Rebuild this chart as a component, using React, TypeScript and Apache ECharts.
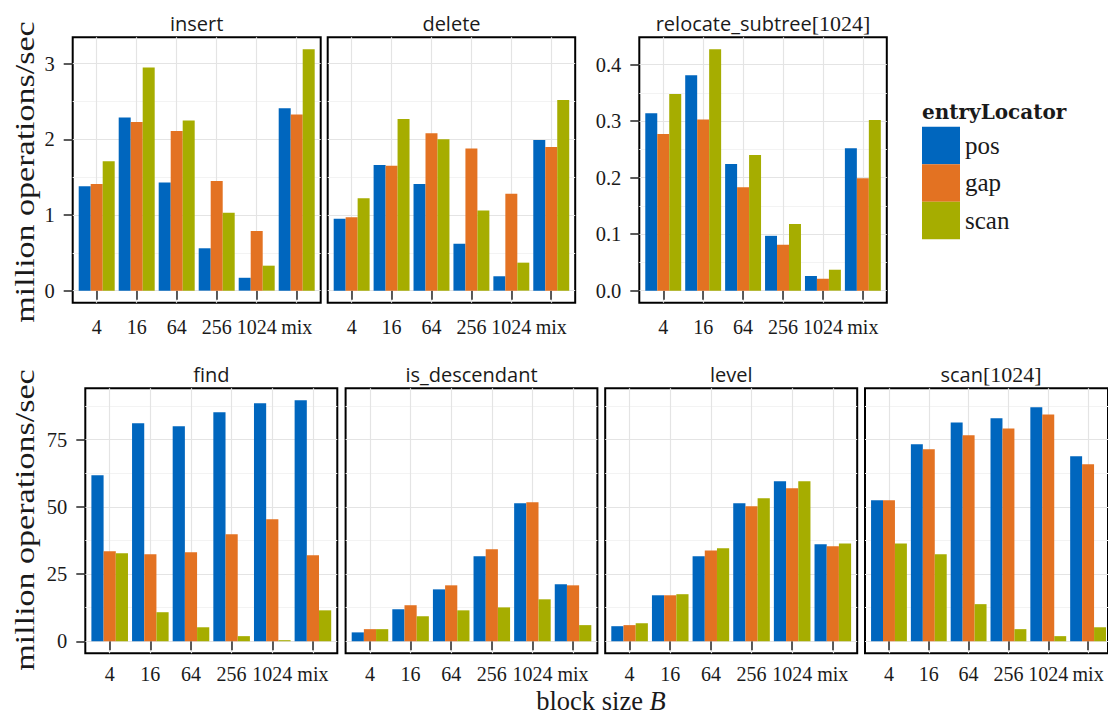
import React, { useEffect, useRef } from 'react';
import * as echarts from 'echarts';

// ---------- data ----------
const categories = ['4', '16', '64', '256', '1024', 'mix'];
const methods = ['pos', 'gap', 'scan'];

const insertPos = [1.38, 2.29, 1.43, 0.56, 0.17, 2.41];
const insertGap = [1.41, 2.23, 2.11, 1.45, 0.79, 2.33];
const insertScan = [1.71, 2.95, 2.25, 1.03, 0.33, 3.19];

const deletePos = [0.95, 1.66, 1.41, 0.62, 0.19, 1.99];
const deleteGap = [0.97, 1.65, 2.08, 1.88, 1.28, 1.9];
const deleteScan = [1.22, 2.27, 2.0, 1.06, 0.37, 2.52];

const relocatePos = [0.314, 0.381, 0.224, 0.097, 0.026, 0.252];
const relocateGap = [0.277, 0.303, 0.183, 0.081, 0.021, 0.199];
const relocateScan = [0.348, 0.427, 0.24, 0.118, 0.037, 0.302];

const findPos = [61.7, 81.1, 80.0, 85.2, 88.5, 89.6];
const findGap = [33.5, 32.4, 33.1, 39.8, 45.4, 32.0];
const findScan = [32.7, 10.8, 5.2, 1.9, 0.4, 11.5];

const isDescPos = [3.3, 11.9, 19.3, 31.6, 51.3, 21.2];
const isDescGap = [4.5, 13.4, 20.8, 34.2, 51.7, 20.8];
const isDescScan = [4.5, 9.3, 11.5, 12.6, 15.6, 6.0];

const levelPos = [5.6, 17.1, 31.6, 51.3, 59.5, 36.1];
const levelGap = [6.0, 17.1, 33.8, 50.2, 56.9, 35.3];
const levelScan = [6.7, 17.5, 34.6, 53.2, 59.5, 36.4];

const scanPos = [52.4, 73.3, 81.4, 82.9, 87.0, 68.8];
const scanGap = [52.4, 71.4, 76.6, 79.1, 84.3, 65.8];
const scanScan = [36.4, 32.4, 13.8, 4.5, 1.9, 5.2];

const topTicks = [0, 1, 2, 3];
const topMinor = [0.5, 1.5, 2.5];
const relocTicks = [0, 0.1, 0.2, 0.3, 0.4];
const relocMinor = [0.05, 0.15, 0.25, 0.35];
const bottomTicks = [0, 25, 50, 75];
const bottomMinor = [12.5, 37.5, 62.5, 87.5];

// ---------- style ----------
const SANS = "'Open Sans', 'Noto Sans', sans-serif";
const SERIF = "'Liberation Serif', 'DejaVu Serif', serif";
const COLORS = ['#0066be', '#e37222', '#a6ad00'];
const TEXT = '#1a1a1a';
const MAJOR = '#e4e4e4';
const MINOR = '#f3f3f3';

function yRange(arrs: number[][]): [number, number] {
  const all = arrs.flat();
  const mx = Math.max(...all);
  const mn = Math.min(0, ...all);
  const pad = (mx - mn) * 0.05;
  return [mn - pad, mx + pad];
}

const topRange = yRange([insertPos, insertGap, insertScan, deletePos, deleteGap, deleteScan]);
const relocRange = yRange([relocatePos, relocateGap, relocateScan]);
const bottomRange = yRange([
  findPos, findGap, findScan, isDescPos, isDescGap, isDescScan,
  levelPos, levelGap, levelScan, scanPos, scanGap, scanScan,
]);

type Panel = {
  title: string;
  left: number;
  top: number;
  width: number;
  height: number;
  data: number[][];
  range: [number, number];
  ticks: number[];
  minors: number[];
  showY: boolean;
  fmt: (v: number) => string;
  labelMargin: number;
};

const intFmt = (v: number) => String(v);
const decFmt = (v: number) => v.toFixed(1);

const TOP = 37.3;
const TOPH = 265.4;
const BOT = 388.3;
const BOTH = 265;

const panels: Panel[] = [
  { title: 'insert', left: 72.7, top: TOP, width: 248, height: TOPH, data: [insertPos, insertGap, insertScan], range: topRange, ticks: topTicks, minors: topMinor, showY: true, fmt: intFmt, labelMargin: 14 },
  { title: 'delete', left: 327.7, top: TOP, width: 247.5, height: TOPH, data: [deletePos, deleteGap, deleteScan], range: topRange, ticks: topTicks, minors: topMinor, showY: false, fmt: intFmt, labelMargin: 14 },
  { title: 'relocate_subtree{s|[1024]}', left: 639.3, top: TOP, width: 247.5, height: TOPH, data: [relocatePos, relocateGap, relocateScan], range: relocRange, ticks: relocTicks, minors: relocMinor, showY: true, fmt: decFmt, labelMargin: 14 },
  { title: 'find', left: 85.3, top: BOT, width: 252, height: BOTH, data: [findPos, findGap, findScan], range: bottomRange, ticks: bottomTicks, minors: bottomMinor, showY: true, fmt: intFmt, labelMargin: 11 },
  { title: 'is_descendant', left: 345.6, top: BOT, width: 251.8, height: BOTH, data: [isDescPos, isDescGap, isDescScan], range: bottomRange, ticks: bottomTicks, minors: bottomMinor, showY: false, fmt: intFmt, labelMargin: 11 },
  { title: 'level', left: 605.2, top: BOT, width: 252, height: BOTH, data: [levelPos, levelGap, levelScan], range: bottomRange, ticks: bottomTicks, minors: bottomMinor, showY: false, fmt: intFmt, labelMargin: 11 },
  { title: 'scan{s|[1024]}', left: 865, top: BOT, width: 252, height: BOTH, data: [scanPos, scanGap, scanScan], range: bottomRange, ticks: bottomTicks, minors: bottomMinor, showY: false, fmt: intFmt, labelMargin: 11 },
];

function buildOption() {
  const grid: any[] = [];
  const xAxis: any[] = [];
  const yAxis: any[] = [];
  const series: any[] = [];
  const graphic: any[] = [];

  panels.forEach((p, i) => {
    const ga = 2 * i;
    const gb = 2 * i + 1;
    const inset = (p.width / 6.2) * 0.1;
    grid.push({
      left: p.left, top: p.top, width: p.width, height: p.height,
      show: true, backgroundColor: '#ffffff', borderColor: '#000000', borderWidth: 2,
    });
    grid.push({ left: p.left + inset, top: p.top, width: p.width - 2 * inset, height: p.height });

    xAxis.push({ gridIndex: ga, type: 'value', min: 0, max: 1, show: false });
    xAxis.push({
      gridIndex: gb,
      type: 'category',
      data: categories,
      axisLine: { show: false },
      axisTick: { show: true, alignWithLabel: true, length: 9, lineStyle: { color: '#333333', width: 1.6 } },
      axisLabel: { interval: 0, margin: p.labelMargin, lineHeight: 20, fontFamily: SERIF, fontSize: 20, color: TEXT },
      splitLine: { show: true, alignWithLabel: true, lineStyle: { color: MAJOR, width: 1.2 } },
    });

    // major y axis (labels, ticks, major grid lines)
    yAxis.push({
      gridIndex: ga,
      type: 'value',
      min: p.range[0],
      max: p.range[1],
      position: 'left',
      axisLine: { show: false },
      axisTick: { show: p.showY, customValues: p.ticks, length: 9, lineStyle: { color: '#333333', width: 1.6 } },
      axisLabel: {
        show: p.showY, customValues: p.ticks, margin: 18,
        formatter: (v: number) => p.fmt(v), fontFamily: SERIF, fontSize: 20.5, color: TEXT,
      },
      splitLine: { show: true, lineStyle: { color: MAJOR, width: 1.2 } },
    });
    // minor grid lines
    yAxis.push({
      gridIndex: ga,
      type: 'value',
      min: p.range[0],
      max: p.range[1],
      position: 'left',
      axisLine: { show: false },
      axisTick: { show: false, customValues: p.minors },
      axisLabel: { show: false, customValues: p.minors },
      splitLine: { show: true, lineStyle: { color: MINOR, width: 1 } },
    });
    // data axis
    yAxis.push({ gridIndex: gb, type: 'value', min: p.range[0], max: p.range[1], show: false });

    p.data.forEach((d, k) => {
      series.push({
        type: 'bar',
        name: methods[k],
        xAxisIndex: gb,
        yAxisIndex: 3 * i + 2,
        data: d,
        barGap: '0%',
        barCategoryGap: '10%',
        itemStyle: { color: COLORS[k] },
        emphasis: { disabled: true },
      });
    });

    graphic.push({
      type: 'text',
      x: p.left + p.width / 2,
      y: p.top - 13.5,
      style: {
        text: p.title,
        fontFamily: SANS,
        fontSize: 20,
        fill: TEXT,
        align: 'center',
        verticalAlign: 'middle',
        rich: { s: { fontFamily: SERIF, fontSize: 22, fill: TEXT } },
      },
    });
  });

  // axis titles
  const yTitleStyle = {
    text: 'million operations/sec',
    fontFamily: SERIF,
    fontSize: 27,
    fill: TEXT,
    align: 'center',
    verticalAlign: 'middle',
  };
  graphic.push({ type: 'text', x: 25, y: 172, rotation: Math.PI / 2, scaleX: 1.26, style: yTitleStyle });
  graphic.push({ type: 'text', x: 25, y: 520, rotation: Math.PI / 2, scaleX: 1.26, style: yTitleStyle });
  graphic.push({
    type: 'text',
    x: 601,
    y: 701,
    style: {
      text: 'block size {it|B}',
      fontFamily: SERIF,
      fontSize: 26.5,
      fill: TEXT,
      align: 'center',
      verticalAlign: 'middle',
      rich: { it: { fontFamily: SERIF, fontStyle: 'italic', fontSize: 26.5, fill: TEXT } },
    },
  });
  // legend title
  graphic.push({
    type: 'text',
    x: 922,
    y: 112,
    style: {
      text: 'entryLocator',
      fontFamily: "'DejaVu Serif', serif",
      fontWeight: 'bold',
      fontSize: 20,
      fill: TEXT,
      align: 'left',
      verticalAlign: 'middle',
    },
  });

  return {
    animation: false,
    backgroundColor: '#ffffff',
    grid,
    xAxis,
    yAxis,
    series,
    graphic,
    legend: {
      data: methods,
      orient: 'vertical',
      left: 922,
      top: 126.7,
      padding: 0,
      itemGap: 0,
      itemWidth: 38,
      itemHeight: 37.5,
      icon: 'rect',
      selectedMode: false,
      textStyle: { fontFamily: SERIF, fontSize: 25, color: TEXT },
    },
  };
}

export default function App() {
  const ref = useRef<HTMLDivElement>(null);
  useEffect(() => {
    if (!ref.current) return;
    const chart = echarts.init(ref.current, undefined, { renderer: 'svg' });
    chart.setOption(buildOption() as any);
    return () => chart.dispose();
  }, []);
  return (
    <div
      ref={ref}
      style={{ position: 'absolute', left: 0, top: 0, width: 1108, height: 716, background: '#fff' }}
    />
  );
}
